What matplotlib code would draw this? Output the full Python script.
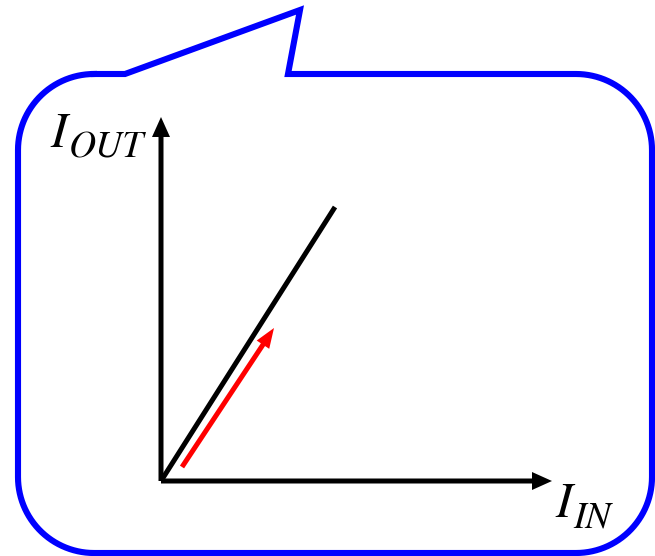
import numpy as np
import matplotlib
matplotlib.use("Agg")
import matplotlib.pyplot as plt

# --- Geometrie (Pixelkoordinaten des Bildes, y nach unten) ---
BOX_LEFT, BOX_RIGHT = 18, 652
BOX_TOP, BOX_BOTTOM = 74, 553
CORNER_R = 76
SPIKE = [(125, 74), (300, 10), (288, 74)]  # Sprechblasen-Spitze

ORIGIN = (161, 481)
Y_AXIS_END = (161, 117)
X_AXIS_END = (552, 481)
LINE_END = (335, 207)          # Kennlinie I_OUT ~ I_IN
RED_START = (182, 467)
RED_END = (274, 328)

# Beschriftungen: (Haupttext, Index)
LABEL_Y = ('I', 'OUT')
LABEL_X = ('I', 'IN')

fig = plt.figure(figsize=(6.55, 5.56), dpi=100)
ax = fig.add_axes([0, 0, 1, 1])
ax.set_xlim(0, 655)
ax.set_ylim(556, 0)
ax.axis('off')


def arc(cx, cy, r, a0, a1, n=30):
    t = np.radians(np.linspace(a0, a1, n))
    return list(zip(cx + r * np.cos(t), cy + r * np.sin(t)))


# Umriss der Sprechblase
pts = [(BOX_LEFT + CORNER_R, BOX_TOP)]
pts += SPIKE
pts += [(BOX_RIGHT - CORNER_R, BOX_TOP)]
pts += arc(BOX_RIGHT - CORNER_R, BOX_TOP + CORNER_R, CORNER_R, -90, 0)
pts += arc(BOX_RIGHT - CORNER_R, BOX_BOTTOM - CORNER_R, CORNER_R, 0, 90)
pts += arc(BOX_LEFT + CORNER_R, BOX_BOTTOM - CORNER_R, CORNER_R, 90, 180)
pts += arc(BOX_LEFT + CORNER_R, BOX_TOP + CORNER_R, CORNER_R, 180, 270)
pts = np.array(pts)
ax.plot(pts[:, 0], pts[:, 1], color='#0000ff', lw=4.4, solid_joinstyle='miter')

# Achsen
ax.arrow(ORIGIN[0], ORIGIN[1], 0, Y_AXIS_END[1] - ORIGIN[1], width=5, head_width=18,
         head_length=20, length_includes_head=True, color='black', lw=0)
ax.arrow(ORIGIN[0], ORIGIN[1], X_AXIS_END[0] - ORIGIN[0], 0, width=5, head_width=18,
         head_length=20, length_includes_head=True, color='black', lw=0)

# Kennlinie
ax.plot([ORIGIN[0], LINE_END[0]], [ORIGIN[1], LINE_END[1]], color='black', lw=3.6,
        solid_capstyle='butt')

# roter Pfeil
ax.arrow(RED_START[0], RED_START[1], RED_END[0] - RED_START[0], RED_END[1] - RED_START[1],
         width=5, head_width=15, head_length=20, length_includes_head=True,
         color='#ff0000', lw=0)

font = dict(family='STIXGeneral', style='italic', va='baseline', ha='left')
ax.text(50, 147, LABEL_Y[0], fontsize=36, **font)
ax.text(69, 158, LABEL_Y[1], fontsize=27, **font)
ax.text(555, 517, LABEL_X[0], fontsize=36, **font)
ax.text(573, 527, LABEL_X[1], fontsize=27, **font)

fig.savefig('out.png', dpi=100)
